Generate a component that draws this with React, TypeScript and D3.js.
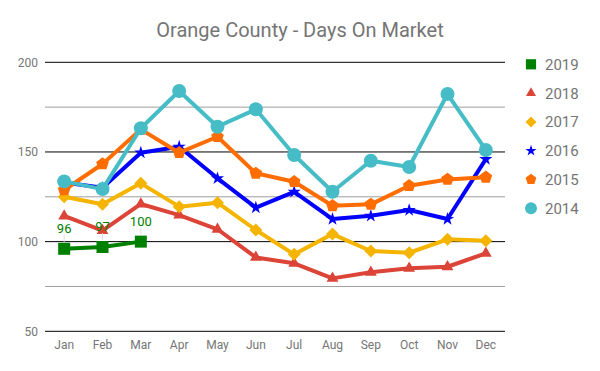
import React from "react";
import * as d3 from "d3";

const months = ["Jan", "Feb", "Mar", "Apr", "May", "Jun", "Jul", "Aug", "Sep", "Oct", "Nov", "Dec"];

const days2019 = [96, 97, 100];
const days2018 = [114.3, 106.1, 121, 114.8, 106.9, 91.2, 87.9, 79.5, 82.9, 85.1, 86, 93.5];
const days2017 = [125, 120.8, 132.5, 119.5, 121.7, 106.5, 92.9, 104.2, 94.8, 93.8, 101.3, 100.5];
const days2016 = [133, 130, 149.6, 152.9, 135.3, 119, 127.7, 112.6, 114.4, 117.6, 112.6, 146];
const days2015 = [128.8, 143.3, 162.6, 149.6, 158.5, 138.1, 133.4, 120, 120.8, 131.2, 134.7, 135.9];
const days2014 = [133.6, 129.3, 163.2, 184, 164.1, 173.8, 148.3, 127.8, 145.1, 141.6, 182.3, 151.1];

const yTicks = [50, 100, 150, 200];
const minorTicks = [75, 125, 175];

const series = [
  { name: "2019", color: "#008000", symbol: "square", values: days2019, labels: true },
  { name: "2018", color: "#DB4437", symbol: "triangle", values: days2018 },
  { name: "2017", color: "#F4B400", symbol: "diamond", values: days2017 },
  { name: "2016", color: "#0000FF", symbol: "star", values: days2016 },
  { name: "2015", color: "#FF6D00", symbol: "pentagon", values: days2015 },
  { name: "2014", color: "#46BDC6", symbol: "circle", values: days2014 },
];

// marker radius per series
const radius: Record<string, number> = {
  "2019": 6,
  "2018": 6.5,
  "2017": 6.5,
  "2016": 7,
  "2015": 7,
  "2014": 7,
};

const W = 600;
const H = 371;
const margin = { left: 45, right: 95 };
const font = "Roboto, 'Noto Sans', sans-serif";

function poly(n: number, r: number, rot = -Math.PI / 2) {
  const pts = d3.range(n).map((i) => {
    const a = rot + (i * 2 * Math.PI) / n;
    return [r * Math.cos(a), r * Math.sin(a)];
  });
  return "M" + pts.map((p) => p.map((v) => v.toFixed(2)).join(",")).join("L") + "Z";
}

function markerPath(symbol: string, r: number) {
  switch (symbol) {
    case "square":
      return `M${-r},${-r}H${r}V${r}H${-r}Z`;
    case "triangle":
      return poly(3, r * 1.05, -Math.PI / 2);
    case "diamond":
      return poly(4, r, -Math.PI / 2);
    case "pentagon":
      return poly(5, r * 0.95, -Math.PI / 2);
    case "star":
      return d3.symbol(d3.symbolStar, r * r * 1.1)()!;
    default:
      return d3.symbol(d3.symbolCircle, Math.PI * r * r)()!;
  }
}

export default function App() {
  const x = d3.scaleBand().domain(months).range([margin.left, W - margin.right]);
  const y = d3.scaleLinear().domain([50, 200]).range([331.3, 62.3]);
  const cx = (m: string) => x(m)! + x.bandwidth() / 2;

  const line = d3
    .line<number>()
    .x((_, i) => cx(months[i]))
    .y((d) => y(d));

  return (
    <svg width={W} height={H} style={{ display: "block", position: "absolute", left: 0, top: 0 }}>
      <rect width={W} height={H} fill="#fff" />
      <text x={300} y={37} textAnchor="middle" fontFamily={font} fontSize={20} fill="#757575">
        Orange County - Days On Market
      </text>

      {minorTicks.map((t) => (
        <line key={"m" + t} x1={margin.left} x2={W - margin.right} y1={y(t)} y2={y(t)} stroke="#9e9e9e" strokeWidth={1} />
      ))}
      {yTicks.map((t) => (
        <g key={t}>
          <line x1={margin.left} x2={W - margin.right} y1={y(t)} y2={y(t)} stroke="#000" strokeWidth={1} />
          <text x={38} y={y(t) + 4.5} textAnchor="end" fontFamily={font} fontSize={12} fill="#757575">
            {t}
          </text>
        </g>
      ))}
      {months.map((m) => (
        <text key={m} x={cx(m)} y={349} textAnchor="middle" fontFamily={font} fontSize={12} fill="#757575">
          {m}
        </text>
      ))}

      {series.map((s) => (
        <g key={s.name}>
          <path d={line(s.values)!} fill="none" stroke={s.color} strokeWidth={4} strokeLinejoin="round" />
          {s.values.map((v, i) => (
            <path
              key={i}
              d={markerPath(s.symbol, radius[s.name])}
              transform={`translate(${cx(months[i])},${y(v)})`}
              fill={s.color}
            />
          ))}
        </g>
      ))}

      {series
        .filter((s) => s.labels)
        .map((s) =>
          s.values.map((v, i) => (
            <g key={s.name + "l" + i}>
              <line x1={cx(months[i])} x2={cx(months[i])} y1={y(v) - 7} y2={y(v) - 14} stroke="#ddd" strokeWidth={1} />
              <text x={cx(months[i])} y={y(v) - 16} textAnchor="middle" fontFamily={font} fontSize={13} fill="#008000">
                {v}
              </text>
            </g>
          ))
        )}

      {series.map((s, i) => (
        <g key={"lg" + s.name} transform={`translate(0,${64.3 + i * 28.8})`}>
          <path d={markerPath(s.symbol, radius[s.name] * 0.85)} transform="translate(531,0)" fill={s.color} />
          <text x={545} y={5.5} fontFamily={font} fontSize={15} fill="#757575">
            {s.name}
          </text>
        </g>
      ))}
    </svg>
  );
}
